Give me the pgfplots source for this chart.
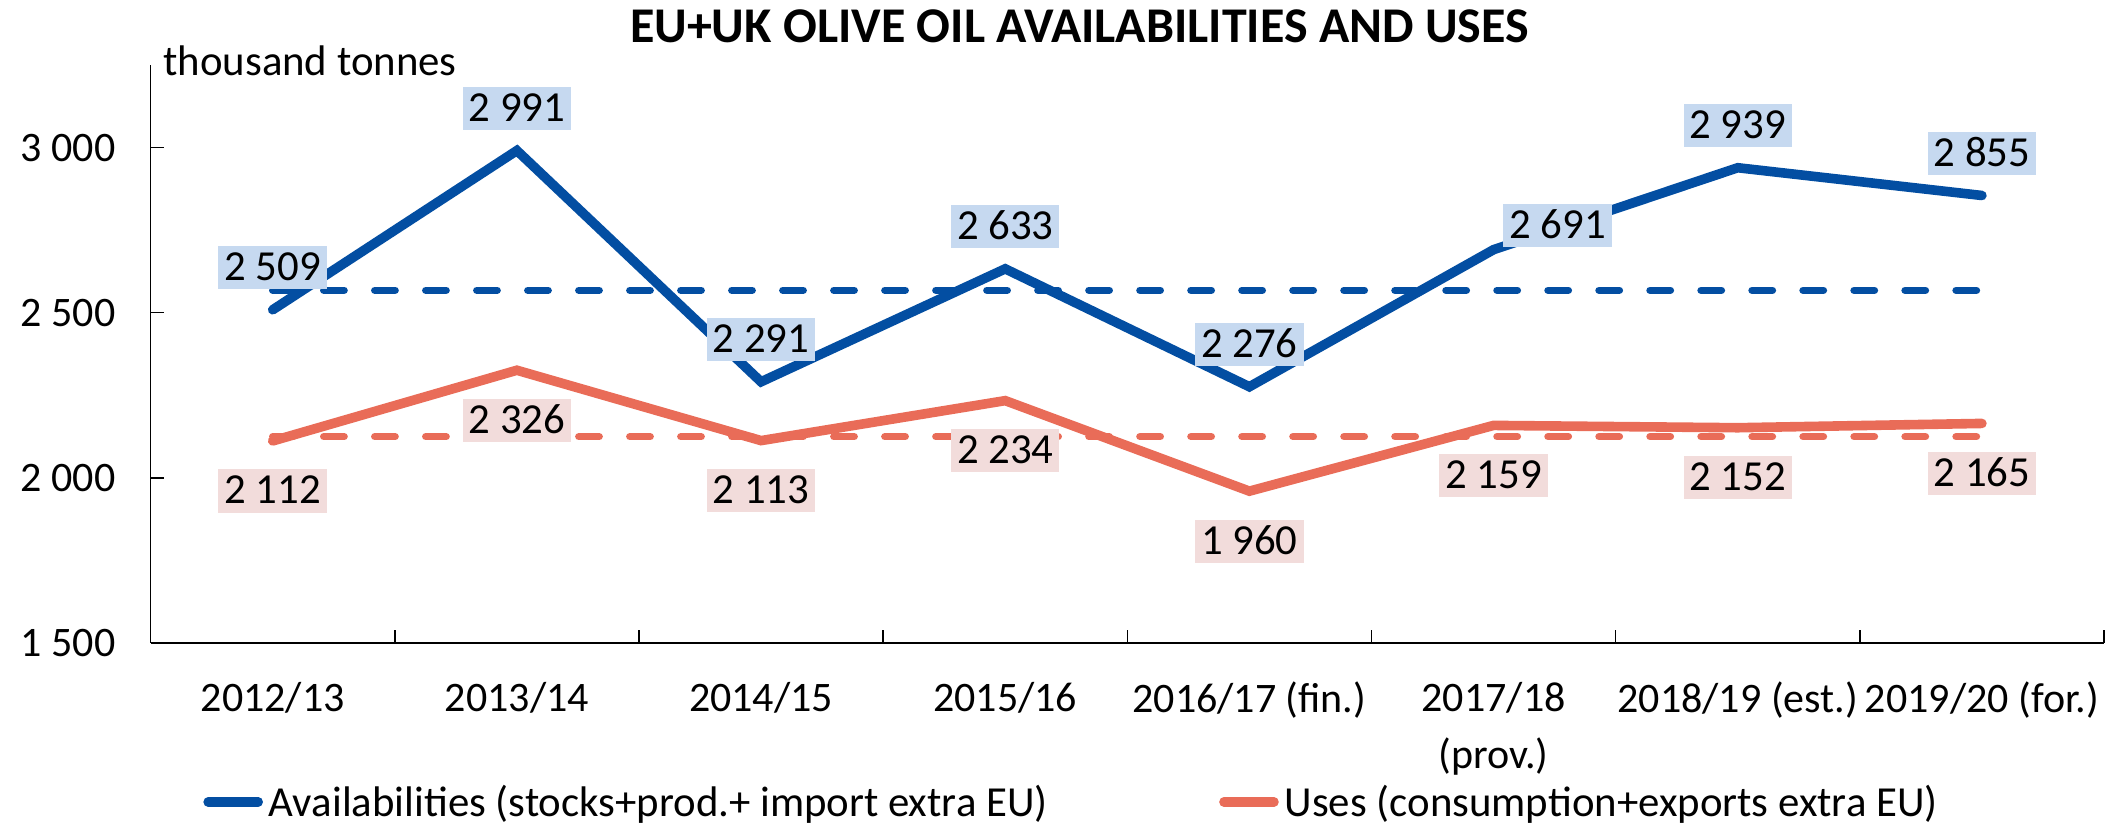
\documentclass[border=0pt]{standalone}
\usepackage{fontspec}
\setmainfont{Carlito}
\usepackage{pgfplots}
\pgfplotsset{compat=1.18}
\usetikzlibrary{calc}
\definecolor{avb}{HTML}{034EA2}
\definecolor{use}{HTML}{E96C58}
\definecolor{avbbox}{HTML}{C6D9F0}
\definecolor{usebox}{HTML}{F2DCDB}
\newcommand{\tickfont}{\fontsize{21}{28.5}\selectfont}
\newcommand{\lblfont}{\fontsize{21.4}{28.5}\selectfont}
\begin{document}
\begin{tikzpicture}
\begin{axis}[
  scale only axis, width=976.5pt, height=289pt,
  xmin=-0.5, xmax=7.5, ymin=1500, ymax=3250,
  clip=false,
  axis x line*=bottom, axis y line*=left,
  axis line style={-, black, line width=0.7pt},
  tick style={black, line width=0.7pt},
  tick align=inside,
  xtick={0,...,7},
  xticklabels={2012/13,2013/14,2014/15,2015/16,2016/17 (fin.),{2017/18\\(prov.)},2018/19 (est.),2019/20 (for.)},
  major x tick style={draw=none},
  minor xtick={0.5,1.5,2.5,3.5,4.5,5.5,6.5,7.5},
  minor tick length=6.5pt,
  major tick length=6.5pt,
  ytick={1500,2000,2500,3000},
  /pgf/number format/assume math mode=true,
  /pgf/number format/1000 sep={\ },
  tick label style={font=\tickfont, black},
  xticklabel style={align=center, yshift=-16pt},
  yticklabel style={anchor=east, xshift=-14pt},
  legend columns=2,
  legend style={at={(0.0268,-0.2747)}, anchor=west, draw=none, fill=none,
    font=\lblfont, inner sep=0pt, column sep=0pt,
    nodes={inner xsep=3pt, inner ysep=1.5pt},
    /tikz/every even column/.style={column sep=0pt}},
  legend cell align=left,
  legend image code/.code={\draw[#1, line cap=round] (0pt,0pt) -- (25pt,0pt);},
]
% average lines
\addplot[avb, line width=3.7pt, line cap=round, dash pattern=on 10.2pt off 15.3pt, forget plot]
  coordinates {(0,2568) (7,2568)};
\addplot[use, line width=3.7pt, line cap=round, dash pattern=on 10.2pt off 15.3pt, forget plot]
  coordinates {(0,2125) (7,2125)};
% main series
\addplot[avb, line width=4.8pt, line cap=round]
  coordinates {(0,2509) (1,2991) (2,2291) (3,2633) (4,2276) (5,2691) (6,2939) (7,2855)};
\addlegendentry{\makebox[472pt][l]{Availabilities (stocks+prod.+ import extra EU)}}
\addplot[use, line width=4.8pt, line cap=round]
  coordinates {(0,2112) (1,2326) (2,2113) (3,2234) (4,1960) (5,2159) (6,2152) (7,2165)};
\addlegendentry{Uses (consumption+exports extra EU)}
% labels
\addplot[draw=none, forget plot, point meta=y, nodes near coords,
  every node near coord/.append style={fill=avbbox, text=black, font=\lblfont,
    inner xsep=3pt, inner ysep=4.3pt, text height=13pt, text depth=0pt, anchor=center, yshift=21pt}]
  coordinates {(0,2509) (1,2991) (2,2291) (3,2633) (4,2276) (6,2939) (7,2855)};
\addplot[draw=none, forget plot, point meta=y, nodes near coords,
  every node near coord/.append style={fill=avbbox, text=black, font=\lblfont,
    inner xsep=3pt, inner ysep=4.3pt, text height=13pt, text depth=0pt, anchor=center, xshift=32pt, yshift=12pt}]
  coordinates {(5,2691)};
\addplot[draw=none, forget plot, point meta=y, nodes near coords,
  every node near coord/.append style={fill=usebox, text=black, font=\lblfont,
    inner xsep=3pt, inner ysep=4.3pt, text height=13pt, text depth=0pt, anchor=center, yshift=-25pt}]
  coordinates {(0,2112) (1,2326) (2,2113) (3,2234) (4,1960) (5,2159) (6,2152) (7,2165)};
\node[font=\bfseries\fontsize{25}{28}\selectfont, anchor=center, yshift=19.2pt] at (rel axis cs:0.4755,1) {EU+UK OLIVE OIL AVAILABILITIES AND USES};
\node[font=\lblfont, anchor=base west, inner sep=0pt, xshift=6.2pt, yshift=-5pt] at (rel axis cs:0,1) {thousand tonnes};
\coordinate (bl) at (rel axis cs:0,0);
\coordinate (tr) at (rel axis cs:1,1);
\end{axis}
\pgfresetboundingbox
\path[use as bounding box] ($(bl)+(-75.3pt,-91.5pt)$) rectangle ($(tr)+(11.5pt,32.5pt)$);
\end{tikzpicture}
\end{document}
